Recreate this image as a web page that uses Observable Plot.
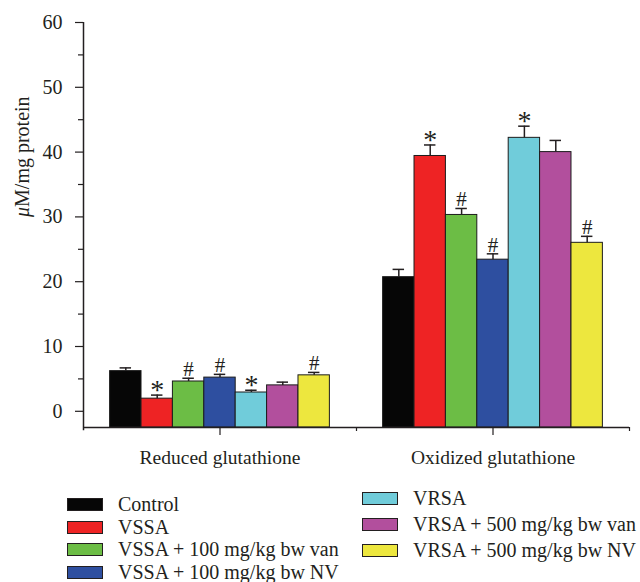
<!DOCTYPE html>
<html>
<head>
<meta charset="utf-8">
<script src="https://cdn.jsdelivr.net/npm/d3@7"></script>
<script src="https://cdn.jsdelivr.net/npm/@observablehq/plot@0.6"></script>
<style>
  html, body { margin: 0; padding: 0; background: #fff; }
  #fig { position: relative; width: 640px; height: 582px; font-family: "Liberation Serif", serif; color: #231f20; }
  #fig svg { position: absolute; left: 0; top: 0; }
  .col { position: absolute; display: flex; flex-direction: column; }
  .item { display: flex; align-items: center; height: 13px; font-size: 20px; white-space: nowrap; }
  .sw { box-sizing: border-box; width: 36px; height: 13px; border: 1.5px solid #231f20; flex: none; }
</style>
</head>
<body>
<div id="fig"></div>
<script>
const groups = ["Reduced glutathione", "Oxidized glutathione"];
const series = ["Control", "VSSA", "VSSA + 100 mg/kg bw van", "VSSA + 100 mg/kg bw NV",
                "VRSA", "VRSA + 500 mg/kg bw van", "VRSA + 500 mg/kg bw NV"];
const colors = ["#060606", "#ee2324", "#6cbd45", "#2e4fa0", "#70ccda", "#b24f9d", "#ede73e"];
const reduced    = [6.2, 1.95, 4.6, 5.2, 2.9, 4.0, 5.55];
const reducedErr = [0.5, 0.55, 0.5, 0.5, 0.35, 0.5, 0.45];
const reducedSig = ["", "*", "#", "#", "*", "", "#"];
const oxidized    = [20.7, 39.4, 30.3, 23.4, 42.2, 40.0, 26.0];
const oxidizedErr = [1.2, 1.7, 1.0, 0.9, 1.8, 1.8, 1.0];
const oxidizedSig = ["", "*", "#", "#", "*", "", "#"];
const yTicks = [0, 10, 20, 30, 40, 50, 60];
const yMinorTicks = [5, 15, 25, 35, 45, 55];
const yLabel = "μM/mg protein";

const Y0 = -2.5;
const BW = 0.115;      // bar width in x units
const CAP = 0.021;     // half cap width in x units

const rows = [];
[[reduced, reducedErr, reducedSig], [oxidized, oxidizedErr, oxidizedSig]].forEach(([vals, errs, sigs], gi) => {
  vals.forEach((v, si) => {
    const c = gi + 1 + (si - 3) * BW;
    rows.push({group: groups[gi], series: series[si], color: colors[si], value: v, err: errs[si], sig: sigs[si],
               c, x1: c - BW / 2, x2: c + BW / 2, top: v + errs[si]});
  });
});

const ink = "#231f20";
const svg = Plot.plot({
  width: 640,
  height: 475,
  marginLeft: 83,
  marginRight: 11,
  marginTop: 22,
  marginBottom: 48,
  style: {fontFamily: "Liberation Serif, serif", fontSize: "20px", color: ink, background: "#fff"},
  x: {domain: [0.5, 2.5]},
  y: {domain: [Y0, 60]},
  marks: [
    Plot.rect(rows, {x1: "x1", x2: "x2", y1: Y0, y2: "value", fill: "color", stroke: "#1c1c1c", strokeWidth: 1}),
    Plot.ruleX(rows, {x: "c", y1: "value", y2: "top", stroke: ink, strokeWidth: 1.5}),
    Plot.ruleY(rows, {y: "top", x1: d => d.c - CAP, x2: d => d.c + CAP, stroke: ink, strokeWidth: 1.5}),
    Plot.text(rows.filter(d => d.sig === "#"), {x: "c", y: "top", text: "sig", lineAnchor: "middle", dy: -9, fontSize: 21, fill: ink}),
    Plot.text(rows.filter(d => d.sig === "*"), {x: "c", y: "top", text: "sig", lineAnchor: "middle", dy: -5, fontSize: 28, fill: ink}),
    Plot.ruleX([0.5], {y1: Y0 - 0.5, y2: 60, stroke: ink, strokeWidth: 1.5}),
    Plot.ruleY([Y0], {x1: 0.5, x2: 2.5, stroke: ink, strokeWidth: 1.5}),
    Plot.axisY({ticks: yTicks, tickSize: 8, tickPadding: 13, label: null, fontSize: 20, stroke: ink, strokeWidth: 1.2}),
    Plot.axisY({ticks: yMinorTicks, tickSize: 5, tickFormat: () => "", label: null, stroke: ink, strokeWidth: 1.2}),
    Plot.axisX({ticks: [1, 2], tickSize: 8, tickPadding: 15, tickFormat: i => groups[i - 1], label: null, fontSize: 19.5, stroke: ink, strokeWidth: 1.2}),
    Plot.axisX({ticks: [1.5, 2.5], tickSize: 4, tickFormat: () => "", label: null, stroke: ink, strokeWidth: 1.2}),
    Plot.text([yLabel], {frameAnchor: "left", dx: -61, dy: -8, rotate: -90, text: d => d, fontSize: 20, fill: ink})
  ]
});

// italic mu in the y label
d3.select(svg).selectAll("text").filter(function () { return this.textContent === yLabel; })
  .each(function () {
    const t = d3.select(this);
    t.text(null);
    t.append("tspan").attr("font-style", "italic").text("μ");
    t.append("tspan").text("M/mg protein");
  });

const fig = document.getElementById("fig");
fig.appendChild(svg);

function column(items, left, top, step) {
  const col = document.createElement("div");
  col.className = "col";
  col.style.left = left + "px";
  col.style.top = top + "px";
  col.style.gap = (step - 13) + "px";
  items.forEach(i => {
    const it = document.createElement("div");
    it.className = "item";
    const sw = document.createElement("div");
    sw.className = "sw";
    sw.style.background = colors[i];
    const lb = document.createElement("span");
    lb.textContent = series[i];
    lb.style.marginLeft = "15px";
    it.appendChild(sw);
    it.appendChild(lb);
    col.appendChild(it);
  });
  fig.appendChild(col);
}
column([0, 1, 2, 3], 67, 498, 22.7);
column([4, 5, 6], 362, 492, 25.8);
</script>
</body>
</html>
